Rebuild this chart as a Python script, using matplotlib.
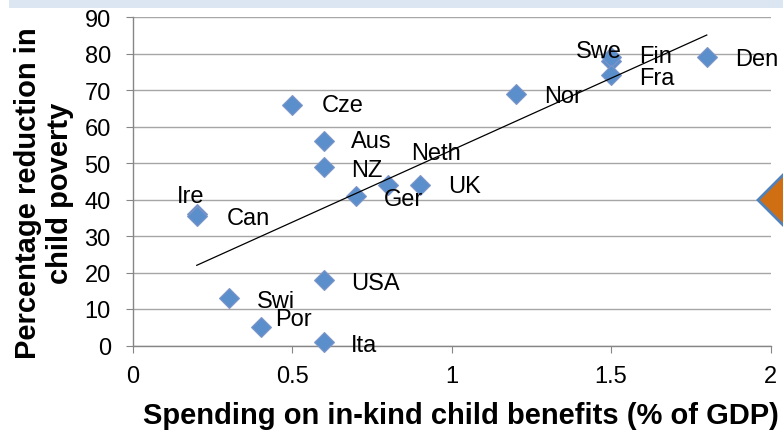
import numpy as np
import matplotlib
matplotlib.use("Agg")
import matplotlib.pyplot as plt
from matplotlib.patches import Polygon, Rectangle

plt.rcParams['font.family'] = ['Liberation Sans', 'DejaVu Sans']

countries = ["Ire", "Can", "Cze", "Aus", "NZ", "Ger", "Neth", "UK", "USA",
             "Swi", "Por", "Ita", "Nor", "Swe", "Fin", "Fra", "Den"]
spending = [0.2, 0.2, 0.5, 0.6, 0.6, 0.7, 0.8, 0.9, 0.6,
            0.3, 0.4, 0.6, 1.2, 1.5, 1.5, 1.5, 1.8]
reduction = [36, 35.5, 66, 56, 49, 41, 44, 44, 18,
             13, 5, 1, 69, 78, 79, 74, 79]

x_ticks = [0, 0.5, 1, 1.5, 2]
x_tick_labels = ["0", "0.5", "1", "1.5", "2"]
y_ticks = [0, 10, 20, 30, 40, 50, 60, 70, 80, 90]

# label offsets in pixels (dx, dy) relative to each marker
label_offsets = {
    "Ire": (-6, 18), "Can": (30, -2), "Cze": (29, 0), "Aus": (27, 0),
    "NZ": (27, -3), "Ger": (28, -3), "Neth": (23, 32), "UK": (28, -1),
    "USA": (27, -3), "Swi": (28, -3), "Por": (15, 8), "Ita": (27, -3),
    "Nor": (29, -2), "Swe": (-12, 10), "Fin": (28, 1), "Fra": (28, -3),
    "Den": (28, -2),
}

W, H = 783, 435
fig = plt.figure(figsize=(W / 100, H / 100), dpi=100)
fig.patch.set_facecolor("white")

# light header band
fig.add_artist(Rectangle((9 / W, 1 - 9 / H), 1, 9 / H, transform=fig.transFigure,
                         facecolor="#DCE6F2", edgecolor="none", zorder=0))

ax = fig.add_axes([133 / W, 1 - 346.5 / H, (770.5 - 133) / W, (346.5 - 18) / H])
ax.set_xlim(0, 2)
ax.set_ylim(0, 90)
ax.set_xticks(x_ticks)
ax.set_xticklabels(x_tick_labels)
ax.set_yticks(y_ticks)

ax.grid(axis="y", color="#A6A6A6", linewidth=1.0)
ax.set_axisbelow(True)
for s in ["top", "right"]:
    ax.spines[s].set_visible(False)
for s in ["left", "bottom"]:
    ax.spines[s].set_color("#868686")
    ax.spines[s].set_linewidth(1.0)
ax.tick_params(axis="both", colors="#868686", labelcolor="black",
               labelsize=17, direction="out", length=5)
ax.tick_params(axis="y", pad=11)
ax.tick_params(axis="x", pad=9)

ax.plot(spending, reduction, linestyle="none", marker="D", markersize=10,
        markerfacecolor="#5B8FCC", markeredgecolor="#7F95C8",
        markeredgewidth=0.8, zorder=3, clip_on=False)

for name, xv, yv in zip(countries, spending, reduction):
    dx, dy = label_offsets[name]
    ha = "center" if name in ("Ire", "Swe") else "left"
    ax.annotate(name, (xv, yv), xytext=(dx, dy), textcoords="offset pixels",
                ha=ha, va="center", fontsize=17, zorder=4)

# linear trend line across the data range
coef = np.polyfit(spending, reduction, 1)
xt = np.array([min(spending), max(spending)])
ax.plot(xt, np.polyval(coef, xt), color="black", linewidth=0.9, zorder=5)

ax.set_xlabel("Spending on in-kind child benefits (% of GDP)",
              fontsize=21, fontweight="bold")
ax.xaxis.set_label_coords(0.514, -0.17)
fig.text(44 / W, 1 - 193 / H, "Percentage reduction in\nchild poverty",
         rotation=90, ha="center", va="center", multialignment="center",
         fontsize=21, fontweight="bold", linespacing=1.15)

# orange slide ornament at the right edge
pts = [(758, 201), (800, 159), (842, 201), (800, 243)]
fig.add_artist(Polygon([(px / W, 1 - py / H) for px, py in pts],
                       closed=True, transform=fig.transFigure,
                       facecolor="#D06E14", edgecolor="#4F81BD",
                       linewidth=2, zorder=6))

fig.savefig("out.png", dpi=100)
